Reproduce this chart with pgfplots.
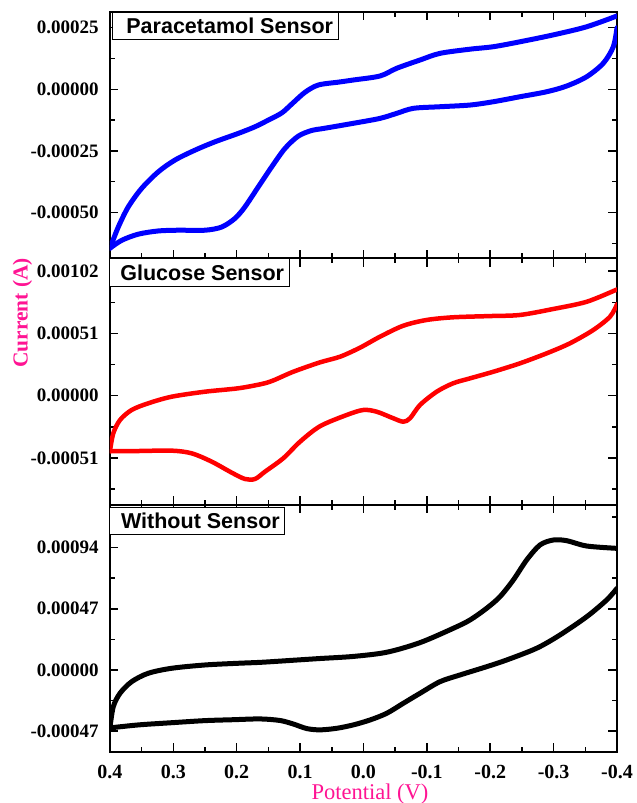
\documentclass[border=0pt]{standalone}
\usepackage{fontspec}
\setmainfont{Liberation Serif}
\newfontfamily\boxfont{Liberation Sans}
\usepackage{pgfplots}
\pgfplotsset{compat=1.18}
\definecolor{cpink}{RGB}{255,20,147}
\begin{document}
\begin{tikzpicture}
\pgfplotsset{
  panel/.style={
    scale only axis, width=507pt, anchor=south west,
    xmin=-0.4, xmax=0.4, x dir=reverse,
    xtick={0.4,0.3,0.2,0.1,0,-0.1,-0.2,-0.3,-0.4},
    minor xtick={0.35,0.25,0.15,0.05,-0.05,-0.15,-0.25,-0.35},
    tick pos=both, ticklabel pos=left,
    tick align=inside,
    major tick length=8.5pt, minor tick length=5pt,
    tick style={black, line width=1.5pt},
    line width=1.8pt,
    scaled y ticks=false, scaled x ticks=false,
    yticklabel style={font=\fontsize{19}{22}\selectfont\bfseries, inner sep=0pt, xshift=-10.5pt},
    xticklabel style={font=\fontsize{20}{24}\selectfont\bfseries, inner sep=0pt, yshift=-12pt},
  },
  cv/.style={line width=#1, smooth, tension=0.5, line join=round, line cap=round},
}
% Panel 1: Paracetamol
\begin{axis}[panel, at={(110pt,544.7pt)}, height=246.3pt,
  ymin=-0.000686, ymax=0.000314,
  ytick={-0.0005,-0.00025,0,0.00025},
  yticklabels={-0.00050,-0.00025,0.00000,0.00025},
  minor ytick={-0.000625,-0.000375,-0.000125,0.000125},
  xticklabels={}]
\addplot[blue, cv=5pt] coordinates {
(0.4,-0.000645) (0.3869,-0.000559) (0.3711,-0.000477) (0.3500,-0.000402)
(0.3238,-0.000335) (0.2974,-0.000287) (0.2659,-0.000247) (0.2343,-0.000213)
(0.1976,-0.000179) (0.1712,-0.000152) (0.1502,-0.000125) (0.1291,-0.0000960)
(0.1133,-0.0000600) (0.0923,-0.0000120) (0.0713,0.0000175) (0.0400,0.0000290)
(0.0161,0.0000378) (-0.0260,0.0000541) (-0.0524,0.0000854)
(-0.0892,0.000119) (-0.1207,0.000146) (-0.1681,0.000163) (-0.2048,0.000173)
(-0.2469,0.000193) (-0.2995,0.000221) (-0.3522,0.000254) (-0.4,0.000298)
};
\addplot[blue, cv=5pt] coordinates {
(-0.4,0.000250) (-0.3942,0.000173) (-0.3784,0.000106) (-0.3522,0.0000512)
(-0.3206,0.0000134) (-0.2891,-0.0000098) (-0.2469,-0.0000301) (-0.2048,-0.0000504)
(-0.1681,-0.0000638) (-0.1207,-0.0000707) (-0.0786,-0.0000772) (-0.0524,-0.0000976)
(-0.0260,-0.000118) (0.0161,-0.000138) (0.0634,-0.000159) (0.0817,-0.000167)
(0.1029,-0.000190) (0.1239,-0.000240) (0.1449,-0.000315) (0.1660,-0.000396)
(0.1870,-0.000477) (0.2028,-0.000524) (0.2237,-0.000559) (0.2501,-0.000572)
(0.2922,-0.000572) (0.3238,-0.000575) (0.3553,-0.000588) (0.3815,-0.000613)
(0.4,-0.000645)
};
\end{axis}
% Panel 2: Glucose
\begin{axis}[panel, at={(110pt,298pt)}, height=246.7pt,
  ymin=-0.000895, ymax=0.001125,
  ytick={-0.00051,0,0.00051,0.00102},
  yticklabels={-0.00051,0.00000,0.00051,0.00102},
  minor ytick={-0.000765,-0.000255,0.000255,0.000765},
  xticklabels={}]
\addplot[red, cv=4.5pt] coordinates {
(0.4,-0.000452) (0.3948,-0.000308) (0.3842,-0.000199) (0.3658,-0.000117)
(0.3396,-0.0000622) (0.3026,-0.0000082) (0.2501,0.0000327) (0.1976,0.0000606)
(0.1606,0.0000958) (0.1423,0.000125) (0.1108,0.000196) (0.0686,0.000273)
(0.0371,0.000319) (0.0055,0.000393) (-0.0260,0.000483) (-0.0628,0.000573)
(-0.0997,0.000620) (-0.1417,0.000642) (-0.1996,0.000652) (-0.2469,0.000661)
(-0.2995,0.000710) (-0.3522,0.000769) (-0.4,0.000870)
};
\addplot[red, cv=4.5pt] coordinates {
(-0.4,0.000748) (-0.3890,0.000647) (-0.3626,0.000538) (-0.3258,0.000429)
(-0.2891,0.000347) (-0.2469,0.000265) (-0.2048,0.000196) (-0.1681,0.000142)
(-0.1417,0.000102) (-0.1155,0.0000327) (-0.0892,-0.0000761) (-0.0734,-0.000185)
(-0.0628,-0.000213) (-0.0470,-0.000185) (-0.0208,-0.000131) (0.0003,-0.000117)
(0.0265,-0.000158) (0.0686,-0.000250) (0.1002,-0.000377) (0.1265,-0.000512)
(0.1554,-0.000622) (0.1712,-0.000682) (0.1870,-0.000682) (0.2080,-0.000630)
(0.2395,-0.000540) (0.2711,-0.000472) (0.3026,-0.000450) (0.3553,-0.000453)
(0.4,-0.000455)
};
\end{axis}
% Panel 3: Without sensor
\begin{axis}[panel, at={(110pt,51pt)}, height=247pt,
  ymin=-0.00063, ymax=0.001267,
  ytick={-0.00047,0,0.00047,0.00094},
  yticklabels={-0.00047,0.00000,0.00047,0.00094},
  minor ytick={-0.000235,0.000235,0.000705,0.001175},
  xticklabels={0.4,0.3,0.2,0.1,0.0,-0.1,-0.2,-0.3,-0.4}]
\addplot[black, cv=5pt] coordinates {
(0.4,-0.000440) (0.3948,-0.000282) (0.3842,-0.000179) (0.3658,-0.0000899)
(0.3396,-0.0000253) (0.3026,0.0000131) (0.2501,0.0000384) (0.1976,0.0000515)
(0.1606,0.0000591) (0.1002,0.0000780) (0.0686,0.0000880) (0.0161,0.000104)
(-0.0366,0.000136) (-0.0892,0.000210)
(-0.1417,0.000320) (-0.1681,0.000384)
(-0.1944,0.000474) (-0.2154,0.000563) (-0.2364,0.000691) (-0.2575,0.000845)
(-0.2785,0.000960) (-0.2995,0.000998) (-0.3206,0.000993) (-0.3522,0.000952)
(-0.4,0.000934)
};
\addplot[black, cv=5pt] coordinates {
(-0.4,0.000627) (-0.3838,0.000538) (-0.3522,0.000409) (-0.3101,0.000269)
(-0.2733,0.000167) (-0.2260,0.0000768) (-0.1944,0.0000253) (-0.1523,-0.0000384)
(-0.1207,-0.0000899) (-0.0892,-0.000179) (-0.0628,-0.000256) (-0.0366,-0.000333)
(-0.0103,-0.000384) (0.0161,-0.000422) (0.0423,-0.000448) (0.0686,-0.000460)
(0.0896,-0.000450) (0.1108,-0.000415) (0.1318,-0.000388) (0.1633,-0.000376)
(0.2054,-0.000382) (0.2501,-0.000389) (0.3026,-0.000405) (0.3553,-0.000422)
(0.4,-0.000445)
};
\end{axis}
\tikzset{lbl/.style={draw, line width=0.8pt, fill=white, anchor=north west, inner xsep=5pt, inner ysep=0pt, minimum height=27.5pt, font=\boxfont\bfseries\fontsize{21.5}{24}\selectfont}}
\node[lbl] at (112pt,791pt) {\hspace{9pt}Paracetamol Sensor};
\node[lbl] at (109pt,544.7pt) {\hspace{6pt}Glucose Sensor};
\node[lbl] at (108.7pt,296.3pt) {\hspace{7pt}Without Sensor};
\node[rotate=90, font=\bfseries\fontsize{21.4}{24}\selectfont, text=cpink, inner sep=0pt] at (22.5pt,490pt) {Current (A)};
\node[anchor=base, font=\fontsize{22.5}{26}\selectfont, text=cpink, inner sep=0pt] at (370pt,4pt) {Potential (V)};
\pgfresetboundingbox
\path[use as bounding box] (0pt,0pt) rectangle (637pt,803pt);
\end{tikzpicture}
\end{document}
